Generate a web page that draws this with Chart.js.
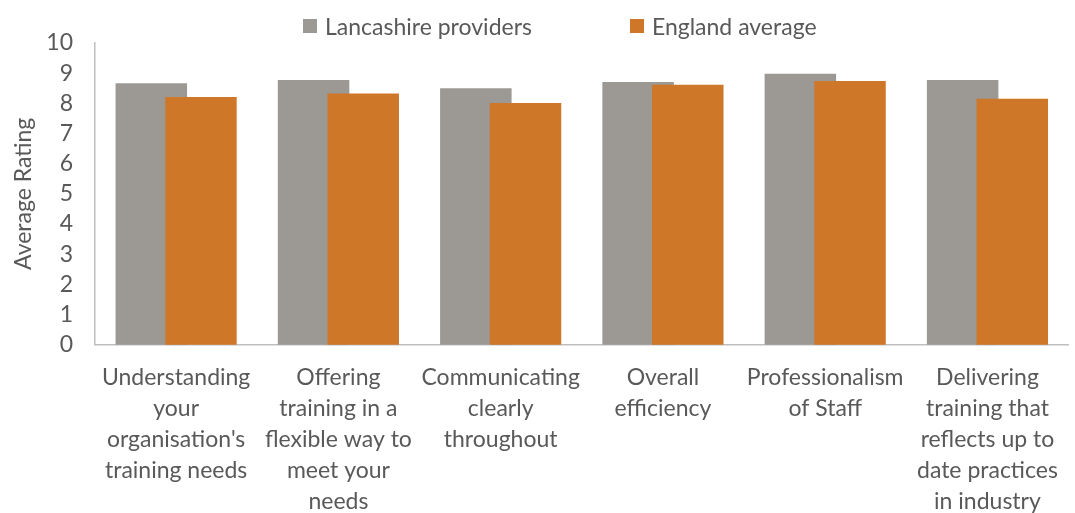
<!DOCTYPE html>
<html>
<head>
<meta charset="utf-8">
<script src="https://cdn.jsdelivr.net/npm/chart.js@4"></script>
<style>
  html, body { margin: 0; padding: 0; overflow: hidden; background: #fff; }
  #wrap { position: relative; width: 1075px; height: 534px; }
  #legend {
    position: absolute; top: 12px; left: 303px;
    display: flex; gap: 98px;
    font: 23px Lato, sans-serif; color: #595959;
  }
  #legend span { display: inline-flex; align-items: center; white-space: nowrap; }
  #legend i { display: inline-block; width: 14px; height: 14px; margin-right: 8px; }
</style>
</head>
<body>
<div id="wrap">
  <div id="legend"></div>
  <canvas id="myChart"></canvas>
</div>
<script>
// Kategori (label sumbu x, dipecah per baris)
const categories = [
  ['Understanding', 'your', "organisation's", 'training needs'],
  ['Offering', 'training in a', 'flexible way to', 'meet your', 'needs'],
  ['Communicating', 'clearly', 'throughout'],
  ['Overall', 'efficiency'],
  ['Professionalism', 'of Staff'],
  ['Delivering', 'training that', 'reflects up to', 'date practices', 'in industry']
];

const seriesNames = ['Lancashire providers', 'England average'];
const lancashire = [8.67, 8.77, 8.50, 8.71, 8.98, 8.77];
const england = [8.21, 8.33, 8.01, 8.62, 8.74, 8.15];
const seriesColors = ['#9c9894', '#cf7729'];

const textColor = '#595959';
const fontFamily = 'Lato, sans-serif';

// Legenda HTML
const legendEl = document.getElementById('legend');
seriesNames.forEach((name, i) => {
  const item = document.createElement('span');
  item.innerHTML = '<i style="background:' + seriesColors[i] + '"></i>' + name;
  legendEl.appendChild(item);
});

// Gambar dataset dari kiri ke kanan, supaya batang oranye menimpa batang abu-abu
const drawLeftToRight = {
  id: 'drawLeftToRight',
  beforeDatasetsDraw(chart) {
    chart.getSortedVisibleDatasetMetas().forEach(meta => meta.controller.draw());
    return false;
  }
};

const ctx = document.getElementById('myChart').getContext('2d');

const data = {
  labels: categories,
  datasets: [{
    label: seriesNames[0],
    data: lancashire,
    backgroundColor: seriesColors[0]
  }, {
    label: seriesNames[1],
    data: england,
    backgroundColor: seriesColors[1]
  }]
};

const config = {
  type: 'bar',
  data: data,
  options: {
    responsive: true,
    maintainAspectRatio: false,
    animation: false,
    categoryPercentage: 0.612,
    barPercentage: 1.44,
    layout: { padding: { top: 43, right: 1, bottom: 0, left: 0 } },
    plugins: {
      legend: { display: false },
      tooltip: { enabled: false }
    },
    scales: {
      x: {
        grid: { display: false, drawTicks: false },
        border: { display: true, color: '#bfbfbf', width: 1.5 },
        ticks: {
          color: textColor,
          font: { family: fontFamily, size: 23, lineHeight: 1.35 },
          padding: 17,
          maxRotation: 0,
          minRotation: 0,
          autoSkip: false
        }
      },
      y: {
        min: 0,
        max: 10,
        afterFit(scale) { scale.width = 95; },
        grid: { display: false, drawTicks: false },
        border: { display: true, color: '#bfbfbf', width: 1.5 },
        ticks: {
          stepSize: 1,
          autoSkip: false,
          color: textColor,
          font: { family: fontFamily, size: 23 },
          padding: 22
        },
        title: {
          display: true,
          text: 'Average Rating',
          color: textColor,
          font: { family: fontFamily, size: 23 },
          padding: { top: 10, bottom: 0 }
        }
      }
    }
  },
  plugins: [drawLeftToRight]
};

new Chart(ctx, config);
</script>
</body>
</html>
